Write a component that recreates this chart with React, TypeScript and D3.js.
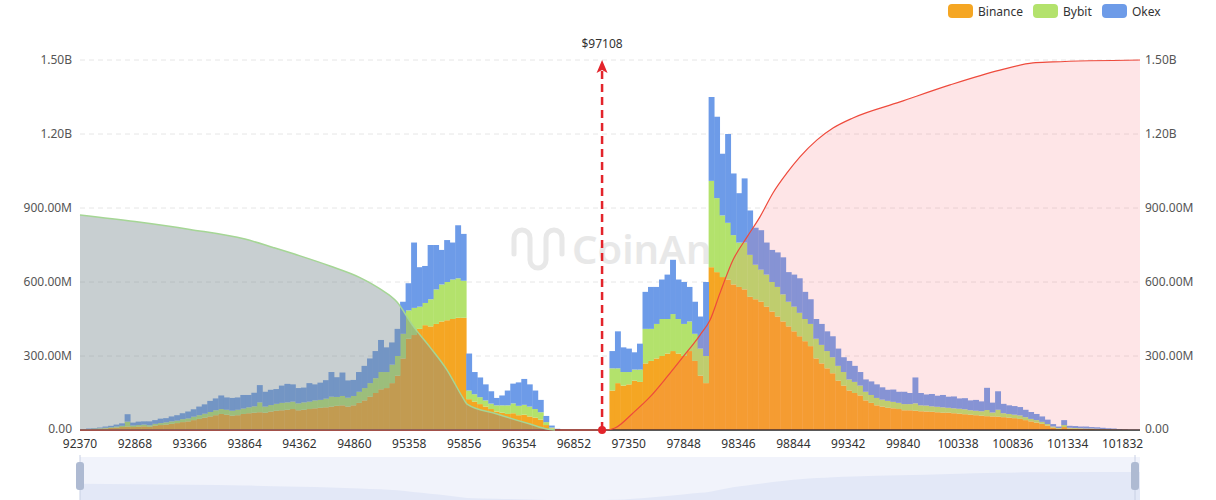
import React from "react";
import * as d3 from "d3";

// ---------- DATA ----------
const priceStart = 92400;
const priceStep = 50;

const binance = [
  2, 3, 4, 5, 6, 8, 10, 12, 14,
  12, 14, 15, 13, 18, 20, 22, 25, 28, 32, 35, 40,
  45, 50, 55, 60, 65, 62, 58, 60, 65, 68, 70,
  72, 70, 75, 78, 80, 82, 85, 80, 82, 85, 88, 90, 92, 95, 98, 100, 95, 100,
  110, 120, 135, 150, 165, 170, 190, 220, 290, 370, 385, 410, 425, 420, 430, 440, 445, 450, 455, 455,
  125, 115, 105, 95, 85, 75, 70, 65, 68, 60, 62, 55, 50, 42, 20, 6, 2,
  0, 0, 0, 0, 0, 0, 0, 0, 0,
  160, 190, 180, 185, 200, 195, 270, 280, 290, 300, 310, 320, 310, 300, 320, 280, 220, 190,
  660, 640, 620, 610, 590, 580, 570, 540, 530, 520, 500, 480, 460, 440, 420, 400, 380, 360, 340,
  290, 270, 250, 230, 200, 180, 160, 150, 140, 120, 110, 100, 95, 90, 88, 85, 80, 80,
  78, 76, 75, 74, 72, 70, 70, 68, 66, 64, 62, 60, 58, 56, 55, 54, 52, 50, 48, 45,
  40, 35, 30, 25, 18, 10, 5, 12, 6, 5, 5, 4, 4, 3, 3, 2, 2, 1, 1, 0, 0,
];

const bybit = [
  1, 1, 2, 2, 3, 3, 4, 5, 20,
  6, 6, 7, 6, 7, 8, 9, 10, 10, 12, 12, 14,
  15, 16, 18, 20, 20, 20, 20, 22, 22, 24, 26,
  40, 25, 26, 28, 30, 30, 30, 28, 30, 30, 32, 32, 35, 40, 36, 38, 36, 38,
  45, 50, 55, 60, 70, 65, 75, 80, 100, 115, 110, 90, 90, 110, 140, 150, 155, 160, 160, 150,
  35, 30, 28, 25, 22, 25, 30, 35, 40, 38, 40, 40, 35, 30, 12, 4, 1,
  0, 0, 0, 0, 0, 0, 0, 0, 0,
  90, 60, 55, 50, 45, 50, 140, 130, 140, 150, 140, 150, 140, 130, 120, 110, 110, 110,
  350, 300, 250, 230, 200, 180, 190, 170, 140, 130, 130, 120, 120, 110, 100, 100, 95, 90, 90,
  80, 75, 70, 65, 60, 55, 45, 45, 40, 35, 32, 30, 28, 28, 26, 25, 25, 25,
  30, 24, 24, 22, 22, 22, 20, 20, 20, 20, 18, 18, 18, 25, 16, 28, 16, 15, 14, 14,
  12, 10, 10, 8, 6, 4, 3, 8, 3, 3, 2, 2, 2, 2, 1, 1, 1, 1, 0, 0, 0,
];

const okex = [
  1, 2, 2, 3, 5, 6, 8, 10, 30,
  12, 14, 13, 16, 15, 18, 17, 20, 22, 24, 28, 30,
  35, 38, 45, 48, 55, 50, 52, 50, 55, 50, 55,
  70, 60, 62, 60, 70, 75, 70, 62, 60, 75, 65, 70, 75, 100, 80, 95, 70, 65,
  80, 90, 100, 110, 130, 100, 90, 110, 130, 110, 265, 160, 150, 220, 180, 140, 170, 150, 215, 190,
  150, 90, 80, 65, 50, 30, 40, 60, 80, 95, 105, 90, 75, 50, 25, 8, 2,
  0, 0, 0, 0, 0, 0, 0, 0, 0,
  70, 150, 100, 95, 70, 105, 150, 170, 150, 160, 180, 220, 160, 170, 140, 130, 130, 300,
  340, 330, 250, 360, 250, 200, 260, 180, 150, 160, 130, 130, 140, 150, 120, 130, 140, 110, 100,
  80, 85, 80, 85, 70, 60, 75, 65, 55, 50, 55, 55, 50, 45, 50, 45, 50, 45,
  105, 50, 45, 50, 45, 50, 45, 48, 42, 45, 40, 44, 40, 90, 40, 75, 38, 35, 35, 34,
  30, 28, 25, 22, 18, 10, 6, 20, 8, 8, 7, 8, 6, 6, 5, 4, 3, 2, 1, 0, 0,
];

// cumulative short liquidation (left, in M)
const shortCumPrice = [92370, 92869, 93368, 93867, 94122, 94367, 94639, 94911, 95093, 95247, 95392, 95546, 95701, 95846, 95882, 96154, 96454, 96608, 96681];
const shortCumValue = [872, 845, 813, 774, 740, 706, 665, 618, 572, 519, 422, 336, 243, 130, 105, 65, 24, 4, 0];

// cumulative long liquidation (right, in M)
const longCumPrice = [92370, 97150, 97225, 97389, 97543, 97697, 97842, 97997, 98088, 98178, 98296, 98423, 98541, 98659, 98786, 98904, 99059, 99204, 99385, 99812, 100266, 100719, 101019, 101200, 101990];
const longCumValue = [0, 0, 8, 69, 134, 215, 296, 385, 446, 555, 689, 782, 864, 961, 1042, 1107, 1176, 1224, 1265, 1330, 1399, 1459, 1488, 1492, 1500];

const xTicks = [92370, 92868, 93366, 93864, 94362, 94860, 95358, 95856, 96354, 96852, 97350, 97848, 98346, 98844, 99342, 99840, 100338, 100836, 101334, 101832];
const yTicks = [0, 300, 600, 900, 1200, 1500];
const yTickLabels = ["0.00", "300.00M", "600.00M", "900.00M", "1.20B", "1.50B"];

const currentPrice = 97108;
const seriesNames = ["Binance", "Bybit", "Okex"];
const seriesColors = ["#f5a623", "#b3e26c", "#6d9be8"];

// ---------- CHART ----------
const W = 1216;
const H = 500;
const left = 80;
const right = 1140;
const top = 60;
const bottom = 430;
const FONT = "'Noto Sans', 'Open Sans', sans-serif";

export default function App() {
  const x = d3.scaleLinear().domain([92370, 101990]).range([left, right]);
  const y = d3.scaleLinear().domain([0, 1500]).range([bottom, top]);

  const rows = binance.map((b, i) => ({
    price: priceStart + i * priceStep,
    binance: b,
    bybit: bybit[i],
    okex: okex[i],
  }));
  const stacked = d3.stack<any>().keys(["binance", "bybit", "okex"])(rows);
  const bw = x(priceStart + priceStep) - x(priceStart);

  const shortPts = shortCumPrice.map((p, i) => [p, shortCumValue[i]] as [number, number]);
  const longPts = longCumPrice.map((p, i) => [p, longCumValue[i]] as [number, number]);

  const area = d3
    .area<[number, number]>()
    .x((d) => x(d[0]))
    .y0(y(0))
    .y1((d) => y(d[1]))
    .curve(d3.curveMonotoneX);
  const line = d3
    .line<[number, number]>()
    .x((d) => x(d[0]))
    .y((d) => y(d[1]))
    .curve(d3.curveMonotoneX);

  const cx = x(currentPrice);

  const sy = d3.scaleLinear().domain([0, 1500]).range([500, 472]);
  const shadowArea = d3
    .area<[number, number]>()
    .x((d) => x(d[0]))
    .y0(500)
    .y1((d) => sy(d[1]))
    .curve(d3.curveMonotoneX);

  return (
    <svg
      width={W}
      height={H}
      style={{ position: "absolute", left: 0, top: 0, display: "block", background: "#fff" }}
      fontFamily={FONT}
    >
      {/* grid */}
      {yTicks.slice(1).map((t) => (
        <line key={t} x1={left} x2={right} y1={y(t)} y2={y(t)} stroke="#e6e6e6" strokeDasharray="5,4" />
      ))}

      {/* watermark */}
      <g opacity={0.55}>
        <path
          d="M514,254 v-16 a8,8 0 0 1 16,0 v22 a8,8 0 0 0 16,0 v-22 a8,8 0 0 1 16,0 v16"
          fill="none"
          stroke="#d6d6d6"
          strokeWidth={5}
          strokeLinecap="round"
        />
        <text x={572} y={264} fontSize={40} fontWeight={600} fill="#d6d6d6" fontFamily={FONT}>
          CoinAnk
        </text>
      </g>

      {/* bars */}
      {stacked.map((s, si) => (
        <g key={si} fill={seriesColors[si]}>
          {s.map((d, i) =>
            d[1] - d[0] > 0 ? (
              <rect
                key={i}
                x={x(rows[i].price) - bw / 2}
                width={bw + 0.4}
                y={y(d[1])}
                height={y(d[0]) - y(d[1])}
              />
            ) : null
          )}
        </g>
      ))}

      {/* axis line */}
      <line x1={left} x2={right} y1={bottom} y2={bottom} stroke="#222" strokeWidth={1.5} />

      {/* cumulative long area (right) */}
      <path d={area(longPts) || ""} fill="rgb(250,110,120)" fillOpacity={0.18} />
      <path d={line(longPts) || ""} fill="none" stroke="#ee4a3c" strokeWidth={1.2} />

      {/* cumulative short area (left) */}
      <path d={area(shortPts) || ""} fill="rgb(125,140,146)" fillOpacity={0.42} />
      <path d={line(shortPts) || ""} fill="none" stroke="#a5d695" strokeWidth={1.5} />

      {/* current price marker */}
      <line x1={cx} x2={cx} y1={bottom} y2={top + 10} stroke="#e3242b" strokeWidth={2.5} strokeDasharray="8,5" />
      <path d={`M${cx},${top} L${cx - 5.5},${top + 13} L${cx},${top + 10} L${cx + 5.5},${top + 13} Z`} fill="#e3242b" />
      <circle cx={cx} cy={bottom} r={4} fill="#e3242b" />
      <text x={cx} y={48} textAnchor="middle" fontSize={12} fill="#333">
        ${currentPrice}
      </text>

      {/* y axis labels */}
      {yTicks.map((t, i) => (
        <g key={t}>
          <text x={72} y={y(t) + (t === 0 ? 2.5 : 4)} textAnchor="end" fontSize={12} fill="#555">
            {yTickLabels[i]}
          </text>
          <text x={1145} y={y(t) + (t === 0 ? 2.5 : 4)} textAnchor="start" fontSize={12} fill="#555">
            {yTickLabels[i]}
          </text>
        </g>
      ))}

      {/* x axis labels */}
      {xTicks.map((t) => (
        <text key={t} x={x(t)} y={447.5} textAnchor="middle" fontSize={12} fill="#333">
          {t}
        </text>
      ))}

      {/* legend */}
      {seriesNames.map((n, i) => {
        const lx = [948, 1033, 1102][i];
        return (
          <g key={n}>
            <rect x={lx} y={4} width={25} height={14} rx={4} fill={seriesColors[i]} />
            <text x={lx + 30} y={15.5} fontSize={12} fill="#333">
              {n}
            </text>
          </g>
        );
      })}

      {/* data zoom slider */}
      <rect x={left} y={457} width={right - left} height={43} fill="#f1f3fb" />
      <path d={shadowArea(longPts) || ""} fill="#e3e8f7" />
      <path d={shadowArea(shortPts) || ""} fill="#e3e8f7" />
      <line x1={left} x2={left} y1={455} y2={500} stroke="#c8d0e4" />
      <line x1={right - 5} x2={right - 5} y1={455} y2={500} stroke="#c8d0e4" />
      <rect x={left - 4} y={462} width={8} height={28} rx={3} fill="#aebad2" />
      <rect x={right - 9} y={462} width={8} height={28} rx={3} fill="#aebad2" />
    </svg>
  );
}
